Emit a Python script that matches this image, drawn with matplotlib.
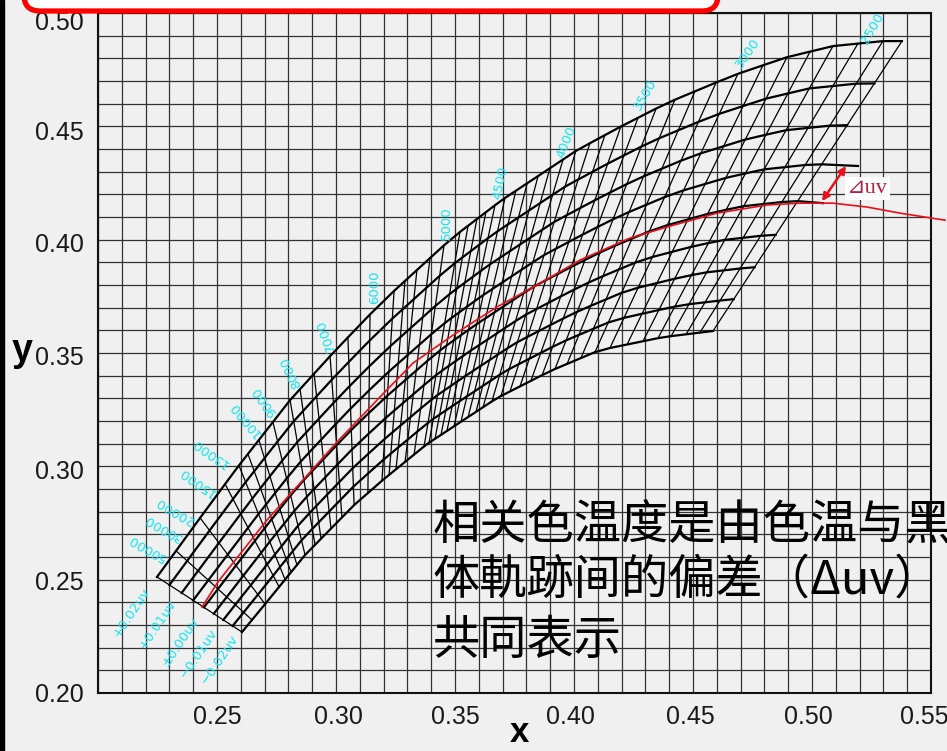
import numpy as np
import matplotlib.pyplot as plt
from matplotlib import font_manager
from matplotlib.patches import FancyBboxPatch, Rectangle
from matplotlib.transforms import IdentityTransform, ScaledTranslation

# isotherms of the chart (K), and where each one meets the +0.02uv / -0.02uv curves (x)
cct = [2300, 2400, 2500, 2600, 2700, 2800, 2900, 3000, 3100, 3200, 3300, 3400,
       3500, 3600, 3700, 3800, 3900, 4000, 4100, 4200, 4300, 4400, 4500, 4600,
       4700, 4800, 4900, 5000, 5200, 5400, 5600, 5800, 6000, 6500, 7000, 7500,
       8000, 8500, 9000, 10000, 11000, 12000, 13000, 15000, 20000, 30000, 50000]
top_x = [0.5378, 0.5298, 0.5193, 0.5088, 0.4992, 0.4895, 0.4794, 0.4689, 0.4597, 0.4508,
         0.4424, 0.4345, 0.4269, 0.4197, 0.4130, 0.4067, 0.4008, 0.3954, 0.3899, 0.3849,
         0.3803, 0.3756, 0.3710, 0.3668, 0.3630, 0.3592, 0.3555, 0.3521, 0.3454, 0.3395,
         0.3340, 0.3290, 0.3244, 0.3143, 0.3050, 0.2975, 0.2908, 0.2849, 0.2807, 0.2735,
         0.2676, 0.2630, 0.2592, 0.2534, 0.2429, 0.2328, 0.2248]
bot_x = [0.4584, 0.4529, 0.4471, 0.4408, 0.4353, 0.4290, 0.4223, 0.4151, 0.4088, 0.4029,
         0.3971, 0.3920, 0.3866, 0.3819, 0.3773, 0.3731, 0.3693, 0.3655, 0.3618, 0.3588,
         0.3555, 0.3525, 0.3496, 0.3466, 0.3441, 0.3416, 0.3391, 0.3370, 0.3328, 0.3290,
         0.3252, 0.3223, 0.3193, 0.3134, 0.3076, 0.3025, 0.2979, 0.2937, 0.2912, 0.2870,
         0.2836, 0.2811, 0.2786, 0.2761, 0.2702, 0.2647, 0.2605]

# outline of the mesh: the +0.02uv curve and the -0.02uv curve
edge_top_x = [0.2248, 0.2416, 0.2584, 0.2807, 0.2987, 0.3193, 0.3487, 0.3697, 0.3887,
              0.4013, 0.4193, 0.4391, 0.4601, 0.4697, 0.4895, 0.5088, 0.5298, 0.5378]
edge_top_y = [0.2512, 0.2754, 0.2993, 0.3292, 0.3500, 0.3725, 0.4007, 0.4175, 0.4307,
              0.4395, 0.4497, 0.4603, 0.4695, 0.4735, 0.4805, 0.4854, 0.4876, 0.4876]
edge_bot_x = [0.2605, 0.2723, 0.2870, 0.3076, 0.3197, 0.3382, 0.3676, 0.3899, 0.4109, 0.4374, 0.4584]
edge_bot_y = [0.2269, 0.2419, 0.2609, 0.2829, 0.2940, 0.3098, 0.3301, 0.3420, 0.3513, 0.3570, 0.3597]

# the 0.005uv curves, +0.02 ... -0.02: where they sit along an isotherm (top -> bottom)
duv_pos = [0.0, 0.146, 0.29, 0.425, 0.552, 0.668, 0.78, 0.89, 1.0]
# two curves run on past the last isotherm
ext_x = {3: 0.5193, 4: 0.5046}
ext_y = {3: 0.4325, 4: 0.4161}

# blackbody locus (red)
locus_x = [0.2437, 0.2504, 0.2710, 0.2899, 0.3004, 0.3185, 0.3324, 0.3492, 0.3676, 0.3845,
           0.4025, 0.4235, 0.4391, 0.4601, 0.4811, 0.4950, 0.5088, 0.5231, 0.5370, 0.5559]
locus_y = [0.2379, 0.2490, 0.2763, 0.2984, 0.3107, 0.3306, 0.3456, 0.3579, 0.3703, 0.3800,
           0.3910, 0.4007, 0.4056, 0.4117, 0.4153, 0.4161, 0.4161, 0.4144, 0.4117, 0.4086]

cct_labels = ['2500', '3000', '3500', '4000', '4500', '5000', '6000', '7000', '8000',
              '9000', '10000', '13000', '15000', '20000', '30000', '50000']
cct_lab_x = [0.5252, 0.4731, 0.4298, 0.3966, 0.3693, 0.3462, 0.3164, 0.2958, 0.2811,
             0.2702, 0.2618, 0.2471, 0.2416, 0.2324, 0.2273, 0.2206]
cct_lab_y = [0.4929, 0.4823, 0.4638, 0.4431, 0.4250, 0.4073, 0.3791, 0.3579, 0.3416,
             0.3288, 0.3209, 0.3059, 0.2931, 0.2807, 0.2732, 0.2640]
cct_lab_rot = [60, 55, 60, 68, 78, 90, 90, 110, 115, 125, 130, 145, 145, 150, 150, 150]

duv_labels = ['+0.02uv', '+0.01uv', '±0.00uv', '−0.01uv', '−0.02uv']
duv_lab_x = [0.2143, 0.2252, 0.2345, 0.2424, 0.2510]
duv_lab_y = [0.2353, 0.2300, 0.2225, 0.2175, 0.2150]

x_ticks = [0.25, 0.30, 0.35, 0.40, 0.45, 0.50, 0.55]
y_ticks = [0.20, 0.25, 0.30, 0.35, 0.40, 0.45, 0.50]
# the printed tick labels sit a few pixels off their grid lines
x_lab_shift = [0, 2, 0, -4, -3, -4, -7]
y_lab_shift = [0, -1, -3, -2, -3, -4, -7]

text_lines = ['相关色温度是由色温与黑', '体軌跡间的偏差（Δuv）', '共同表示']

names = {f.name for f in font_manager.fontManager.ttflist}
num_font = 'Liberation Sans Narrow' if 'Liberation Sans Narrow' in names else 'Liberation Sans'

W, H = 947, 751
fig = plt.figure(figsize=(W / 100, H / 100), dpi=100, facecolor='#f0f0f0')
ax = fig.add_axes([98 / W, 58 / H, 833 / W, 680 / H])
ax.set_facecolor('#f0f0f0')
ax.set_xlim(0.20, 0.55)
ax.set_ylim(0.20, 0.50)

ax.set_xticks(x_ticks)
ax.set_xticklabels([f'{v:.2f}' for v in x_ticks])
ax.set_yticks(y_ticks)
ax.set_yticklabels([f'{v:.2f}' for v in y_ticks])
ax.set_xticks(np.arange(0.20, 0.5501, 0.01), minor=True)
ax.set_yticks(np.arange(0.20, 0.5001, 0.01), minor=True)
ax.tick_params(which='both', length=0)
ax.tick_params(axis='x', pad=9)
ax.tick_params(axis='y', pad=10)
for lab, d in zip(ax.get_xticklabels(), x_lab_shift):
    lab.set_transform(lab.get_transform() + ScaledTranslation(d / 100, 0, fig.dpi_scale_trans))
for lab, d in zip(ax.get_yticklabels(), y_lab_shift):
    lab.set_transform(lab.get_transform() + ScaledTranslation(0, d / 100, fig.dpi_scale_trans))
for lab in ax.get_xticklabels() + ax.get_yticklabels():
    lab.set_fontfamily(num_font)
    lab.set_fontsize(18)
    lab.set_color('#1a1a1a')
ax.grid(True, which='both', color='#333333', lw=0.9)
ax.set_axisbelow(True)
for s in ax.spines.values():
    s.set_linewidth(1.5)
    s.set_color('#111111')

# mesh
tx = np.asarray(top_x)
bx = np.asarray(bot_x)
ty = np.interp(tx, edge_top_x, edge_top_y)
by = np.interp(bx, edge_bot_x, edge_bot_y)
for i, f in enumerate(duv_pos):
    xs = tx + f * (bx - tx)
    ys = ty + f * (by - ty)
    if i in ext_x:
        xs = np.concatenate([[ext_x[i]], xs])
        ys = np.concatenate([[ext_y[i]], ys])
    ax.plot(xs, ys, color='black', lw=1.6, zorder=3)
for i in range(len(cct)):
    ax.plot([tx[i], bx[i]], [ty[i], by[i]], color='black', lw=0.9, zorder=3)

ax.plot(locus_x, locus_y, color='#e8101c', lw=1.2, zorder=5, clip_on=False)

cyan = '#12e6f2'
for s, x, y, r in zip(cct_labels, cct_lab_x, cct_lab_y, cct_lab_rot):
    ax.text(x, y, s, rotation=r, ha='center', va='center', color=cyan,
            fontsize=9.5, family='DejaVu Sans', zorder=6)
for s, x, y in zip(duv_labels, duv_lab_x, duv_lab_y):
    ax.text(x, y, s, rotation=56, ha='center', va='center', color=cyan,
            fontsize=9.5, family='DejaVu Sans', zorder=6)

# delta uv marker
ax.annotate('', xy=(0.5042, 0.4170), xytext=(0.5143, 0.4325),
            arrowprops=dict(arrowstyle='<|-|>', color='#e8101c', lw=1.8,
                            mutation_scale=11, shrinkA=0, shrinkB=0), zorder=6)
ax.text(0.5233, 0.4226, '⊿uv', fontsize=16, color='#b02040', ha='center', va='center',
        family=['Liberation Serif', 'DejaVu Serif', 'DejaVu Sans'], zorder=6,
        bbox=dict(facecolor='white', edgecolor='none', pad=1.5))

fig.text(22 / W, 1 - 361 / H, 'y', fontsize=27, fontweight='bold', family='Liberation Sans',
         ha='center', va='baseline')
fig.text(519 / W, 1 - 742 / H, 'x', fontsize=25, fontweight='bold', family='Liberation Sans',
         ha='center', va='baseline')

cjk = ['Noto Sans CJK SC', 'DejaVu Sans']
for s, py in zip(text_lines, [526, 580, 641]):
    fig.text(433 / W, 1 - py / H, s, fontsize=34, family=cjk, ha='left', va='center',
             color='black')

# red frame at the top and dark strip on the left
fig.add_artist(FancyBboxPatch((24, H - 11), 694, 80, boxstyle='round,pad=0,rounding_size=16',
                              transform=IdentityTransform(), facecolor='white',
                              edgecolor='#ff0000', lw=3.8))
fig.add_artist(Rectangle((0, 0), 4, H, transform=IdentityTransform(), color='black'))

fig.savefig('out.png', dpi=100, facecolor=fig.get_facecolor())
